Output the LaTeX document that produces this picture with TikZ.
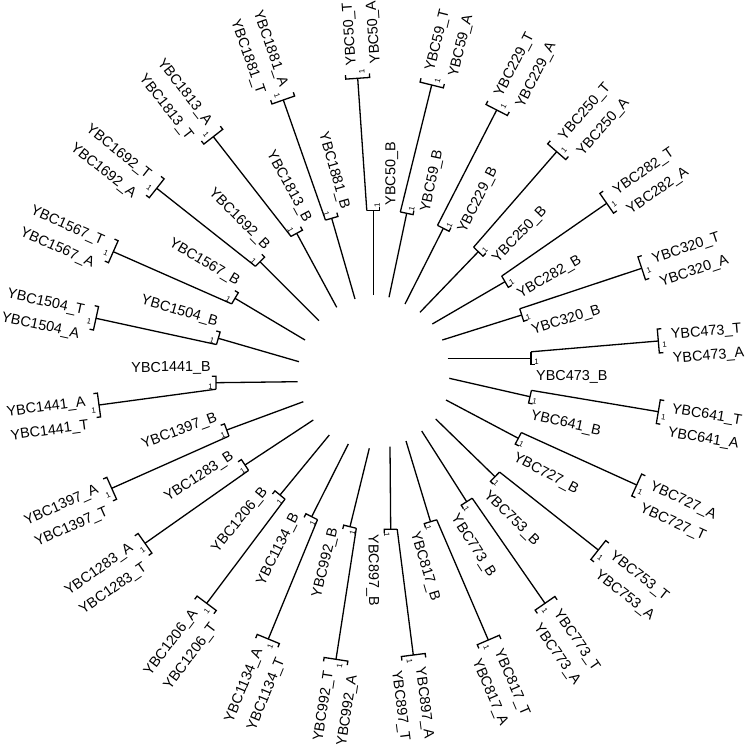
\documentclass[tikz,border=0pt]{standalone}
\usepackage{fontspec}
\setmainfont{Liberation Sans}
\usetikzlibrary{calc}

\begin{document}
\begin{tikzpicture}[x=1pt, y=-1pt,
    branch/.style={draw, line width=1.3pt},
    taxon/.style={font=\fontsize{14.4}{16}\selectfont, inner sep=0pt},
    supp/.style={font=\fontsize{7.8}{8}\selectfont, inner sep=0pt}
]
    \useasboundingbox (0,0) rectangle (749,746);

    % Clades: strain / leaf on the anticlockwise end / other leaf / root end / first split / second split
    \foreach \s/\cc/\cw/\xa/\ya/\xb/\yb/\xc/\yc in {
        473/T/A/447.7/358.3/531/358.3/658.3/341,
        641/T/A/449.3/378.3/530/396.7/658.3/411.7,
        727/A/T/446/400/518.3/438.3/636.7/485,
        753/T/A/435.7/419/495/476.7/598.3/550,
        773/T/A/421.7/431/466.7/501.7/545/603.3,
        817/T/A/406/441/430.5/521.7/488.3/640,
        897/A/T/390/446.7/390.7/529.3/413.3/655,
        992/A/T/369.3/448.3/350/526.7/336/659.3,
        1134/T/A/348.3/444/311.7/516.7/268.3/639,
        1206/T/A/329.3/435/280/495/206.7/603.3,
        1283/T/A/313.3/420/245/465/145/543.3,
        1397/T/A/303.3/401.7/226.7/430/111.7/488.3,
        1441/T/A/297.7/381.7/216/382.7/99/405,
        1504/A/T/299/361.7/218.3/338.3/96/318.3,
        1567/A/T/305/340/235/298.3/113.3/251.7,
        1692/A/T/319/320.7/260/261.7/156.7/188.3,
        1813/T/A/336.7/307.3/296.7/233.3/213.3/136.7,
        1881/T/A/355/299/331.7/218.3/283.3/100,
        50/T/A/373.3/295/373.3/210.7/357.7/78.3,
        59/T/A/389/297.3/406.7/213.3/431.7/85,
        229/T/A/405/304/443.3/228.3/496.7/110,
        250/T/A/420/312.3/478.3/251.7/556.7/151.7,
        282/T/A/432.3/324/505/281.7/606.7/203.3,
        320/T/A/442.3/340/521.7/315/641.7/268.3}{
        \coordinate (r\s) at (\xa,\ya);
        \coordinate (n\s) at (\xb,\yb);
        \coordinate (m\s) at (\xc,\yc);
        \coordinate (a\s) at ($(n\s)!6.5pt!-90:(r\s)$);
        \coordinate (b\s) at ($(n\s)!6.5pt!90:(r\s)$);
        \coordinate (u\s) at ($(n\s)!4pt!180:(r\s)$);
        \coordinate (t\s) at ($(m\s)!12pt!-90:(a\s)$);
        \coordinate (e\s) at ($(m\s)!12pt!90:(a\s)$);
        \coordinate (v\s) at ($(m\s)!4pt!180:(a\s)$);

        \draw[branch] (r\s) -- (n\s);
        \draw[branch] (a\s) -- (m\s);
        \draw[branch] (a\s) -- (b\s) -- ($(b\s)+(u\s)-(n\s)$);
        \draw[branch] ($(t\s)+(v\s)-(m\s)$) -- (t\s) -- (e\s) -- ($(e\s)+(v\s)-(m\s)$);

        % label angles
        \pgfmathanglebetweenpoints{\pgfpointanchor{r\s}{center}}{\pgfpointanchor{n\s}{center}}
        \pgfmathsetmacro{\angS}{\pgfmathresult}
        \pgfmathanglebetweenpoints{\pgfpointanchor{a\s}{center}}{\pgfpointanchor{m\s}{center}}
        \pgfmathsetmacro{\angT}{\pgfmathresult}
        \pgfmathtruncatemacro{\rgtS}{or(\angS<95,\angS>264.5)}
        \pgfmathtruncatemacro{\rgtT}{or(\angT<95,\angT>264.5)}
        \ifnum\rgtS=1 \def\ancS{west}\let\rhoS\angS\def\offB{12}
        \else \def\ancS{east}\pgfmathsetmacro{\rhoS}{\angS-180}\def\offB{8.5}\fi
        \ifnum\rgtT=1 \def\ancT{west}\let\rhoT\angT
        \else \def\ancT{east}\pgfmathsetmacro{\rhoT}{\angT-180}\fi
        \pgfmathsetmacro{\dnS}{\rhoS-90}
        \pgfmathsetmacro{\dnT}{\rhoT-90}
        \pgfmathsetmacro{\cwS}{\angS-90}

        \node[taxon, rotate=\rhoS, anchor=\ancS] (\s B) at ($(b\s)+(\angS:5pt)+(\cwS:\offB pt)$) {YBC\s\_B};
        \node[taxon, rotate=\rhoT, anchor=\ancT] (\s\cc) at ($(t\s)+(\angT:13pt)+(\dnT:7.5pt)$) {YBC\s\_\cc};
        \node[taxon, rotate=\rhoT, anchor=\ancT] (\s\cw) at ($(e\s)+(\angT:13pt)+(\dnT:7.5pt)$) {YBC\s\_\cw};
        \node[supp, rotate=\rhoS] (s\s) at ($(n\s)+(\angS:5.5pt)+(\dnS:4pt)$) {1};
        \node[supp, rotate=\rhoT] (p\s) at ($(m\s)+(\angT:6pt)+(\dnT:4.5pt)$) {1};
    }
\end{tikzpicture}
\end{document}
